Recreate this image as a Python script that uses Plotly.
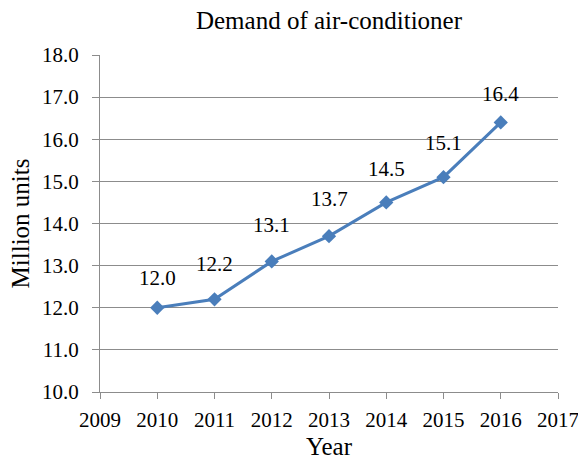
import plotly.graph_objects as go

years = [2010, 2011, 2012, 2013, 2014, 2015, 2016]
demand = [12.0, 12.2, 13.1, 13.7, 14.5, 15.1, 16.4]
labels = ["12.0", "12.2", "13.1", "13.7", "14.5", "15.1", "16.4"]
label_dy = [30, 35, 36, 37, 33, 34, 28]  # pixel offsets of value labels above points

FONT = "Liberation Serif"
LINE = "#4A7EBB"
GRID = "#8C8C8C"

fig = go.Figure()
fig.add_trace(go.Scatter(
    x=years, y=demand, mode="lines+markers",
    line=dict(color=LINE, width=3),
    marker=dict(symbol="diamond", size=11, color=LINE),
    showlegend=False, hoverinfo="skip",
))
for x, y, t, dy in zip(years, demand, labels, label_dy):
    fig.add_annotation(x=x, y=y, text=t, showarrow=False, yshift=dy,
                       font=dict(family=FONT, size=21, color="black"))

fig.update_layout(
    width=578, height=463,
    margin=dict(l=100, r=20, t=55, b=71, autoexpand=False),
    paper_bgcolor="white", plot_bgcolor="white",
    title=dict(text="Demand of air-conditioner", x=0.5, xanchor="center",
               xref="paper",
               y=0.957, yanchor="middle",
               font=dict(family=FONT, size=25, color="black")),
    font=dict(family=FONT, color="black", size=21),
)
fig.update_xaxes(
    range=[2009, 2017], dtick=1, tick0=2009, automargin=False,
    showgrid=False, showline=True, linecolor=GRID, linewidth=1,
    ticks="outside", ticklen=6, tickcolor=GRID, ticklabelstandoff=3,
    ticklabeloverflow="allow",
    tickfont=dict(family=FONT, size=21, color="black"),
    title=dict(text="Year", font=dict(family=FONT, size=25, color="black"), standoff=6),
    zeroline=False,
)
fig.update_yaxes(
    range=[10, 18], dtick=1, tick0=10, tickformat=".1f", automargin=False,
    showgrid=True, gridcolor=GRID, gridwidth=1,
    showline=True, linecolor=GRID, linewidth=1,
    ticks="outside", ticklen=7, tickcolor=GRID, ticklabelstandoff=9,
    tickfont=dict(family=FONT, size=21, color="black"),
    title=dict(text="Million units", font=dict(family=FONT, size=25, color="black"), standoff=5),
    zeroline=False,
)

fig.write_html(
    "out.html",
    config={"displayModeBar": False},
    post_script="document.body.style.margin='0';document.body.style.overflow='hidden';",
)
